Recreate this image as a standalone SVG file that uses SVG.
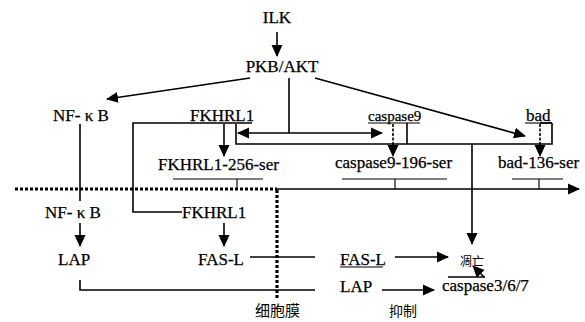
<svg xmlns="http://www.w3.org/2000/svg" width="585" height="322" viewBox="0 0 585 322">
<defs>
<marker id="ah" markerUnits="userSpaceOnUse" markerWidth="12" markerHeight="12" viewBox="0 0 12 12" refX="11" refY="6" orient="auto">
<path d="M0,0.5 L12,6 L0,11.5 z" fill="#000"/>
</marker>
<style>
text{font-family:'Liberation Serif','Times New Roman',serif;font-size:17px;fill:#000;stroke:#000;stroke-width:0.25}
.sm{font-size:15px}
.cjk{font-family:'Noto Sans CJK SC',sans-serif;font-size:15px;stroke-width:0}
.ln{stroke:#000;stroke-width:1.6;fill:none}
.th{stroke:#000;stroke-width:1.1;fill:none}
.dash{stroke:#000;stroke-width:1.6;fill:none;stroke-dasharray:3 1.5}
.dot{stroke:#000;stroke-width:3.2;fill:none;stroke-dasharray:3 2}
.arr{marker-end:url(#ah)}
</style>
</defs>
<rect width="585" height="322" fill="#fff"/>

<g id="connectors">
<line class="ln arr" x1="277" y1="32" x2="277" y2="56"/>
<line class="ln arr" x1="250" y1="78" x2="107" y2="99"/>
<line class="ln arr" x1="315" y1="78" x2="525" y2="136"/>
<line class="ln" x1="289" y1="78" x2="289" y2="133"/>
<line class="ln arr" x1="289" y1="133" x2="382" y2="133"/>
<line class="ln arr" x1="289" y1="133" x2="238" y2="133"/>
<polyline class="ln" points="236,124 236,144 552,144 552,123"/>
<line class="ln" x1="407" y1="123" x2="407" y2="144"/>
<line class="ln" x1="540" y1="123" x2="552" y2="123"/>
<line class="ln arr" x1="224" y1="124" x2="224" y2="156"/>
<line class="dash arr" x1="393" y1="124" x2="393" y2="156"/>
<line class="dash arr" x1="540" y1="124" x2="540" y2="156"/>
<polyline class="ln" points="252,123 133,123 133,212 182,212"/>
<line class="ln" x1="80" y1="124" x2="80" y2="201"/>
<line class="th" x1="173" y1="179" x2="263" y2="179"/>
<line class="th" x1="237" y1="179" x2="237" y2="189"/>
<line class="th" x1="342" y1="179" x2="447" y2="179"/>
<line class="th" x1="395" y1="179" x2="395" y2="189"/>
<line class="th" x1="512" y1="179" x2="563" y2="179"/>
<line class="th" x1="539" y1="179" x2="539" y2="189"/>
<line class="dot" x1="15" y1="189" x2="277" y2="189"/>
<line class="ln arr" x1="277" y1="189" x2="579" y2="189"/>
<line class="dot" x1="277" y1="190" x2="277" y2="298"/>
<line class="ln arr" x1="472" y1="144" x2="472" y2="244"/>
<line class="ln arr" x1="80" y1="223" x2="80" y2="246"/>
<line class="ln arr" x1="224" y1="223" x2="224" y2="246"/>
<line class="ln" x1="250" y1="257" x2="315" y2="257"/>
<polyline class="ln" points="80,280 80,290 315,290"/>
<line class="ln arr" x1="395" y1="257" x2="448" y2="257"/>
<line class="ln arr" x1="382" y1="290" x2="434" y2="290"/>
<line class="ln" x1="448" y1="277" x2="485" y2="277"/>
<line class="ln arr" x1="484" y1="277" x2="473" y2="266"/>
</g>

<g font-family="Liberation Serif, Times New Roman, serif">
<g id="ILK"><text x="277" y="23" text-anchor="middle">ILK</text></g>
<g id="PKB-AKT"><text x="282" y="72" text-anchor="middle">PKB/AKT</text></g>
<g id="NFkB-top"><text x="53" y="121">NF- κ B</text></g>
<g id="FKHRL1-top"><text x="190" y="121">FKHRL1</text></g>
<g id="caspase9"><text class="sm" x="368" y="121">caspase9</text><line class="th" x1="368" y1="123" x2="420" y2="123"/></g>
<g id="bad"><text x="526" y="121">bad</text><line class="th" x1="525" y1="123" x2="552" y2="123"/></g>
<g id="FKHRL1-256-ser"><text x="158" y="170">FKHRL1-256-ser</text></g>
<g id="caspase9-196-ser"><text x="335" y="168">caspase9-196-ser</text></g>
<g id="bad-136-ser"><text x="498" y="168">bad-136-ser</text></g>
<g id="NFkB-low"><text x="45" y="218">NF- κ B</text></g>
<g id="FKHRL1-low"><text x="182" y="218">FKHRL1</text></g>
<g id="LAP-left"><text x="58" y="265">LAP</text></g>
<g id="FASL-left"><text x="198" y="265">FAS-L</text></g>
<g id="FASL-right"><text x="340" y="265">FAS-L</text><line class="th" x1="340" y1="267" x2="383" y2="267"/></g>
<g id="LAP-right"><text x="340" y="292">LAP</text></g>
<g id="apoptosis"><text class="cjk" x="460" y="266" style="font-size:12px">凋亡</text></g>
<g id="caspase367"><text x="442" y="291">caspase3/6/7</text></g>
<g id="membrane"><text class="cjk" x="255" y="316">细胞膜</text></g>
<g id="inhibit"><text class="cjk" x="389" y="316" style="font-size:14px">抑制</text></g>
</g>
</svg>
